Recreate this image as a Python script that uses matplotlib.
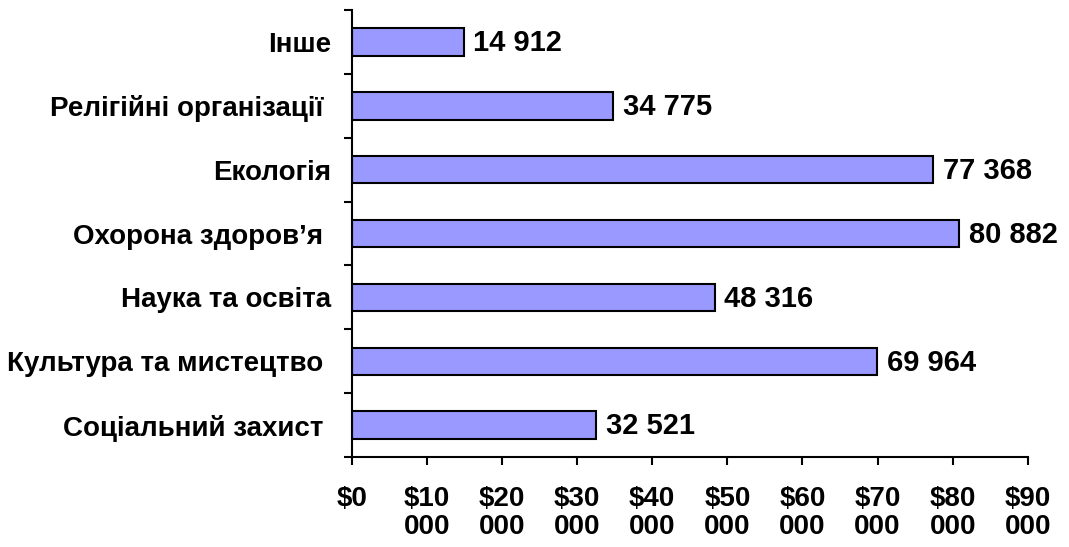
import matplotlib.pyplot as plt
from matplotlib.ticker import FuncFormatter, FixedLocator

plt.rcParams['font.family'] = ['Liberation Sans', 'DejaVu Sans']
plt.rcParams['font.weight'] = 'bold'

categories = ['Соціальний захист ', 'Культура та мистецтво ', 'Наука та освіта',
              'Охорона здоров’я ', 'Екологія', 'Релігійні організації ', 'Інше']
values = [32521, 69964, 48316, 80882, 77368, 34775, 14912]
x_ticks = [0, 10000, 20000, 30000, 40000, 50000, 60000, 70000, 80000, 90000]

fig = plt.figure(figsize=(10.69, 5.47), dpi=100)
ax = fig.add_axes([0.329, 0.1645, 0.6325, 0.8172])

pos = list(range(len(categories)))
ax.barh(pos, values, height=0.43, color='#9999FF', edgecolor='black', linewidth=1.5)

for y, v in zip(pos, values):
    ax.annotate('{:,}'.format(v).replace(',', ' '), (v, y), xytext=(7, -1),
                textcoords='offset points', va='center', ha='left',
                fontsize=21, fontweight='bold')

ax.set_xlim(0, 90000)
ax.set_ylim(-0.5, len(categories) - 0.5)
ax.set_xticks(x_ticks)
ax.xaxis.set_major_formatter(FuncFormatter(
    lambda v, p: '$0' if v == 0 else '${:d}\n000'.format(int(v // 1000))))

# category labels centred on bars, tick marks on category boundaries
ax.yaxis.set_major_locator(FixedLocator([i - 0.5 for i in range(len(categories) + 1)]))
ax.yaxis.set_major_formatter(FuncFormatter(lambda v, p: ''))
ax.yaxis.set_minor_locator(FixedLocator(pos))
ax.set_yticklabels(categories, minor=True)
ax.tick_params(axis='y', which='minor', length=0, pad=15, labelsize=20)
ax.tick_params(axis='y', which='major', length=6, width=1.5, direction='out')
ax.tick_params(axis='x', length=6, width=1.5, direction='out', pad=15, labelsize=20)
for lab in ax.get_xticklabels():
    lab.set_fontweight('bold')
    lab.set_linespacing(1.08)
for lab in ax.get_yticklabels(minor=True):
    lab.set_fontweight('bold')

ax.spines['top'].set_visible(False)
ax.spines['right'].set_visible(False)
ax.spines['left'].set_linewidth(1.5)
ax.spines['bottom'].set_linewidth(1.5)

fig.savefig('out.png', dpi=100)
